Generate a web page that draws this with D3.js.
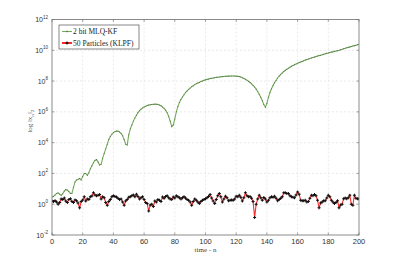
<!DOCTYPE html>
<html><head><meta charset="utf-8">
<script src="https://cdn.jsdelivr.net/npm/d3@7"></script>
<style>body{margin:0;background:#fff}svg{display:block}</style>
</head><body>
<script>
const timeSteps = d3.range(0, 201);
const mlqkf = [2.9,3.2,4.0,5.0,5.4,4.5,3.8,4.8,7.1,8.9,8.5,6.6,5.0,5.2,12.6,28,38,42,47,38,63,100,100,76,112,200,316,500,708,794,562,355,398,1000,2000,3981,7943,1.58e4,2.5e4,3.5e4,4.5e4,5.2e4,5.75e4,5.6e4,5.0e4,4.0e4,2.8e4,1.6e4,7.9e3,7.1e3,3.2e4,7.9e4,1.4e5,2.5e5,4.0e5,6.0e5,8.9e5,1.2e6,1.5e6,1.8e6,2.1e6,2.3e6,2.6e6,2.75e6,2.9e6,3.0e6,3.1e6,3.16e6,3.16e6,3.0e6,2.8e6,2.5e6,2.1e6,1.7e6,1.3e6,8.9e5,5.2e5,2.5e5,1.1e5,1.4e5,3.5e5,1.0e6,2.2e6,4.0e6,6.3e6,9.3e6,1.3e7,1.8e7,2.3e7,2.9e7,3.5e7,4.3e7,5.0e7,5.9e7,6.8e7,7.6e7,8.5e7,9.3e7,1.02e8,1.12e8,1.2e8,1.29e8,1.38e8,1.45e8,1.51e8,1.58e8,1.66e8,1.74e8,1.78e8,1.86e8,1.9e8,1.95e8,2.0e8,2.04e8,2.09e8,2.09e8,2.14e8,2.14e8,2.14e8,2.14e8,2.09e8,2.04e8,1.95e8,1.82e8,1.66e8,1.48e8,1.32e8,1.15e8,9.8e7,8.1e7,6.6e7,5.2e7,4.1e7,3.0e7,2.1e7,1.4e7,8.9e6,5.2e6,3.0e6,2.0e6,3.5e6,8.9e6,1.8e7,3.2e7,5.2e7,7.9e7,1.12e8,1.58e8,2.1e8,2.7e8,3.4e8,4.2e8,5.0e8,5.9e8,6.9e8,7.9e8,9.1e8,1.02e9,1.15e9,1.29e9,1.45e9,1.58e9,1.74e9,1.9e9,2.1e9,2.3e9,2.5e9,2.7e9,2.95e9,3.16e9,3.4e9,3.6e9,3.9e9,4.2e9,4.5e9,4.8e9,5.1e9,5.5e9,5.9e9,6.3e9,6.6e9,7.1e9,7.6e9,7.9e9,8.5e9,8.9e9,9.5e9,1.0e10,1.1e10,1.17e10,1.26e10,1.35e10,1.45e10,1.55e10,1.66e10,1.78e10,1.9e10,2.0e10,2.15e10,2.3e10,2.45e10];
const klpf = [1.6,1.5,1.7,1.4,1.0,1.3,2.2,2.0,2.5,1.6,1.3,2.0,2.3,1.5,1.3,1.9,1.7,1.2,0.58,1.5,1.9,3.0,1.6,2.2,2.0,3.0,3.4,5.6,4.0,3.5,3.8,4.2,2.2,3.0,2.6,1.3,0.85,1.5,2.0,3.0,3.6,3.2,2.9,2.4,2.0,2.2,1.4,0.85,1.6,2.0,2.8,3.0,3.6,4.0,3.0,4.5,3.2,2.2,2.6,3.0,2.0,1.3,1.1,0.36,0.9,1.0,0.7,1.6,1.4,2.0,1.8,1.5,2.9,2.4,3.2,3.6,2.6,2.2,2.0,2.9,2.5,3.5,3.0,2.6,2.2,2.6,3.0,2.5,2.0,1.8,1.4,0.85,1.5,2.2,1.8,1.4,1.1,1.5,1.8,2.0,2.3,2.6,3.2,4.3,2.5,1.6,1.1,2.0,3.5,4.9,3.0,1.4,2.2,3.3,2.6,1.7,1.8,1.9,1.8,2.2,3.3,3.0,3.8,2.8,1.6,2.6,5.5,3.6,3.0,3.2,2.4,1.5,0.135,1.0,2.2,3.8,2.6,1.8,2.7,2.2,1.4,1.8,2.6,3.0,2.8,3.3,2.4,1.7,2.0,2.4,3.0,5.5,5.6,5.0,4.9,3.6,3.0,2.8,2.6,4.0,6.3,4.5,1.8,1.7,1.7,1.8,1.4,1.5,2.4,3.8,3.6,4.3,3.5,1.8,0.6,1.2,1.4,1.7,1.7,2.5,3.8,3.0,1.8,1.4,1.1,1.3,1.7,0.6,0.9,1.0,2.3,2.5,2.3,2.6,3.8,1.0,0.85,3.8,2.4,2.3,2.3];
const xTicks = [0,20,40,60,80,100,120,140,160,180,200];
const yTickExps = [12,10,8,6,4,2,0,-2];
const seriesNames = ["2 bit MLQ-KF", "50 Particles (KLPF)"];

const W = 397, H = 265;
const m = {l:52, r:38, t:19.5, b:30};
const svg = d3.select("body").append("svg").attr("width", W).attr("height", H);
const x = d3.scaleLinear().domain([0,200]).range([m.l, W - m.r]);
const y = d3.scaleLog().domain([1e-2, 1e12]).range([H - m.b, m.t]);
const serif = "'Liberation Serif','DejaVu Serif',serif";
const sans = "'Liberation Sans','DejaVu Sans',sans-serif";
const green = "#76ad5c", greenMk = "#506b48";

// grid
const g = svg.append("g");
g.selectAll("line.vx").data(xTicks.slice(1,-1)).join("line")
  .attr("x1", d=>x(d)).attr("x2", d=>x(d)).attr("y1", m.t).attr("y2", H-m.b)
  .attr("stroke", "#dcdcdc").attr("stroke-width", 0.6).attr("stroke-dasharray", "2,2");
g.selectAll("line.hy").data(yTickExps.slice(1,-1)).join("line")
  .attr("x1", m.l).attr("x2", W-m.r).attr("y1", d=>y(Math.pow(10,d))).attr("y2", d=>y(Math.pow(10,d)))
  .attr("stroke", "#dcdcdc").attr("stroke-width", 0.6).attr("stroke-dasharray", "2,2");

// series
svg.append("clipPath").attr("id","c").append("rect")
  .attr("x", m.l).attr("y", m.t).attr("width", W-m.l-m.r).attr("height", H-m.t-m.b);
const line = d3.line().x((d,i)=>x(timeSteps[i])).y(d=>y(d));
const pg = svg.append("g").attr("clip-path","url(#c)");
pg.append("path").datum(mlqkf).attr("d", line).attr("fill","none").attr("stroke",green).attr("stroke-width",1.1);
pg.selectAll("circle.m").data(mlqkf).join("circle")
  .attr("cx",(d,i)=>x(timeSteps[i])).attr("cy",d=>y(d)).attr("r",0.5).attr("fill",greenMk);
pg.append("path").datum(klpf).attr("d", line).attr("fill","none").attr("stroke","#ff2a2a").attr("stroke-width",1.1);
const cross = d3.symbol().type(d3.symbolCross).size(5);
pg.selectAll("path.k").data(klpf).join("path")
  .attr("transform",(d,i)=>`translate(${x(timeSteps[i])},${y(d)})`).attr("d", cross).attr("fill","#111");

// axes frame
const axCol = "#6e6e6e";
svg.append("rect").attr("x", m.l).attr("y", m.t).attr("width", W-m.l-m.r).attr("height", H-m.t-m.b)
  .attr("fill","none").attr("stroke", axCol).attr("stroke-width", 0.8);
svg.append("g").selectAll("line").data(xTicks).join("line")
  .attr("x1", d=>x(d)).attr("x2", d=>x(d)).attr("y1", H-m.b).attr("y2", H-m.b-2.5).attr("stroke", axCol).attr("stroke-width",0.6);
svg.append("g").selectAll("line").data(xTicks).join("line")
  .attr("x1", d=>x(d)).attr("x2", d=>x(d)).attr("y1", m.t).attr("y2", m.t+2.5).attr("stroke", axCol).attr("stroke-width",0.6);
svg.append("g").selectAll("text").data(xTicks).join("text")
  .attr("x", d=>x(d)).attr("y", H-m.b+8.5).attr("text-anchor","middle")
  .attr("font-family", sans).attr("font-size", 7.5).attr("fill","#333").text(d=>d);
svg.append("g").selectAll("line").data(yTickExps).join("line")
  .attr("x1", m.l).attr("x2", m.l+2.5).attr("y1", d=>y(Math.pow(10,d))).attr("y2", d=>y(Math.pow(10,d))).attr("stroke", axCol).attr("stroke-width",0.6);
svg.append("g").selectAll("line").data(yTickExps).join("line")
  .attr("x1", W-m.r).attr("x2", W-m.r-2.5).attr("y1", d=>y(Math.pow(10,d))).attr("y2", d=>y(Math.pow(10,d))).attr("stroke", axCol).attr("stroke-width",0.6);
const yl = svg.append("g").selectAll("text").data(yTickExps).join("text")
  .attr("x", m.l-4).attr("y", d=>y(Math.pow(10,d))+2.5).attr("text-anchor","end")
  .attr("font-family", sans).attr("font-size", 7).attr("fill","#333");
yl.append("tspan").text("10");
yl.append("tspan").attr("dy",-3.5).attr("font-size",4.5).text(d=>d);

// axis labels
svg.append("text").attr("x", (m.l + W - m.r)/2).attr("y", H-m.b+17).attr("text-anchor","middle")
  .attr("font-family", serif).attr("font-size", 7).attr("fill","#444").text("time - n");
const ylab = svg.append("text").attr("transform", `translate(32,${(m.t+H-m.b)/2 - 6}) rotate(-90)`)
  .attr("text-anchor","middle").attr("font-family", serif).attr("font-size", 7).attr("fill","#555");
ylab.append("tspan").text("log ‖x");
ylab.append("tspan").attr("dy",1.5).attr("font-size",5).text("n");
ylab.append("tspan").attr("dy",-1.5).text("‖");
ylab.append("tspan").attr("dy",1.5).attr("font-size",5).text("2");

// legend
const lg = svg.append("g");
lg.append("rect").attr("x",59).attr("y",25).attr("width",80).attr("height",24)
  .attr("fill","#fff").attr("stroke","#555").attr("stroke-width",0.7);
const rows = [{c:green, w:1.1, y:31.5}, {c:"#ff2a2a", w:2, y:43}];
rows.forEach((r,i)=>{
  lg.append("line").attr("x1",62).attr("x2",72).attr("y1",r.y).attr("y2",r.y).attr("stroke",r.c).attr("stroke-width",r.w);
  if(i===0) lg.append("circle").attr("cx",67).attr("cy",r.y).attr("r",0.8).attr("fill",greenMk);
  else lg.append("path").attr("transform",`translate(67,${r.y})`).attr("d",cross).attr("fill","#000");
  lg.append("text").attr("x",73).attr("y",r.y+2.5).attr("font-family",serif).attr("font-size",7.5)
    .attr("fill","#222").text(seriesNames[i]);
});
</script>
</body></html>
